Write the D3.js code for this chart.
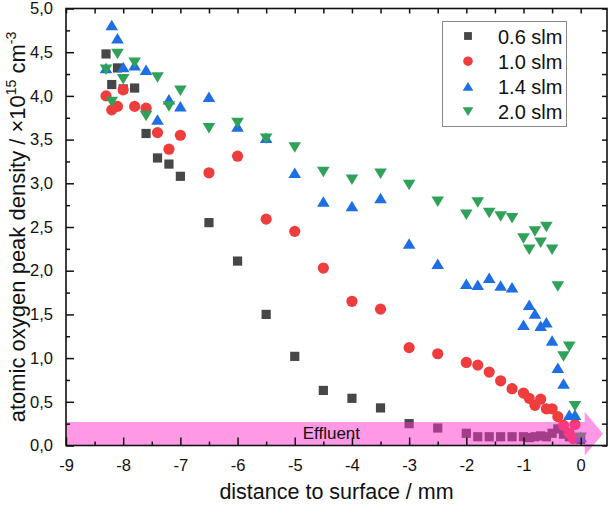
<!DOCTYPE html>
<html>
<head>
<meta charset="utf-8">
<script src="https://cdn.jsdelivr.net/npm/d3@7"></script>
<style>
  body { margin: 0; background: #fff; }
  svg { display: block; font-family: "Liberation Sans", Arial, sans-serif; }
</style>
</head>
<body>
<div id="chart"></div>
<script>
// series labels
const seriesNames = ["0.6 slm", "1.0 slm", "1.4 slm", "2.0 slm"];

// distance to surface (mm), shared by most series
const dist = [-8.3, -8.2, -8.1, -8.0, -7.8, -7.6, -7.4, -7.2, -7.0, -6.5, -6.0, -5.5, -5.0, -4.5,
  -4.0, -3.5, -3.0, -2.5, -2.0, -1.8, -1.6, -1.4, -1.2, -1.0, -0.9, -0.8, -0.7, -0.6, -0.5,
  -0.4, -0.3, -0.2, -0.1, 0.0];
// 1.0 slm last point sits a bit left of 0
const distRed = dist.slice(0, -1).concat([-0.13]);

// atomic oxygen peak density (x10^15 cm^-3)
const n06 = [4.48, 4.13, 4.32, 4.08, 4.09, 3.57, 3.29, 3.22, 3.08, 2.55, 2.11, 1.50, 1.02, 0.63,
  0.54, 0.43, 0.25, 0.20, 0.14, 0.10, 0.10, 0.10, 0.10, 0.10, 0.09, 0.10, 0.11, 0.10, 0.14,
  0.19, 0.13, 0.10, 0.08, 0.07];
const n10 = [4.00, 3.84, 3.88, 4.07, 3.88, 3.86, 3.58, 3.39, 3.55, 3.12, 3.31, 2.59, 2.45, 2.03,
  1.65, 1.56, 1.12, 1.05, 0.95, 0.92, 0.84, 0.74, 0.65, 0.60, 0.54, 0.46, 0.53, 0.42, 0.42,
  0.33, 0.23, 0.14, 0.24, 0.08];
const n14 = [4.32, 4.81, 4.66, 4.33, 4.35, 4.30, 3.73, 3.96, 3.88, 3.99, 3.65, 3.52, 3.12, 2.79,
  2.74, 2.83, 2.31, 2.08, 1.85, 1.84, 1.92, 1.83, 1.81, 1.38, 1.61, 1.51, 1.37, 1.41, 1.20,
  0.89, 0.71, 0.35, 0.35, 0.10];
const n20 = [4.30, 3.93, 4.48, 4.19, 4.38, 3.77, 4.21, 3.88, 4.06, 3.63, 3.69, 3.51, 3.41, 3.13,
  3.04, 3.11, 2.98, 2.79, 2.64, 2.78, 2.66, 2.62, 2.60, 2.37, 2.24, 2.45, 2.32, 2.50, 2.24,
  1.82, 1.02, 1.13, 0.45, 0.09];

const xTickLabels = d3.range(-9, 1, 1);
const yTickLabels = d3.range(0, 5.001, 0.5);

const colors = ["#474747", "#ef3d3d", "#1e6fe3", "#30a158"];
const shapes = ["square", "circle", "up", "down"];

const width = 611, height = 505;

const x = d3.scaleLinear().domain([-9, 0.46]).range([66, 607]);
const y = d3.scaleLinear().domain([0, 5]).range([445.5, 8.5]);

const svg = d3.select("#chart").append("svg")
  .attr("width", width).attr("height", height)
  .attr("viewBox", [0, 0, width, height]);

function marker(sel, shape, s) {
  // s = scale factor
  if (shape === "square") {
    sel.append("rect").attr("x", -4.6 * s).attr("y", -4.6 * s)
      .attr("width", 9.2 * s).attr("height", 9.2 * s);
  } else if (shape === "circle") {
    sel.append("circle").attr("r", 5.6 * s);
  } else if (shape === "up") {
    sel.append("path").attr("d", `M0,${-5.3 * s}L${6.3 * s},${5.2 * s}L${-6.3 * s},${5.2 * s}Z`);
  } else {
    sel.append("path").attr("d", `M0,${5.3 * s}L${6.3 * s},${-5.2 * s}L${-6.3 * s},${-5.2 * s}Z`);
  }
}

const series = [
  {name: seriesNames[0], xs: dist, ys: n06},
  {name: seriesNames[1], xs: distRed, ys: n10},
  {name: seriesNames[2], xs: dist, ys: n14},
  {name: seriesNames[3], xs: dist, ys: n20}
];

series.forEach((s, i) => {
  const pts = s.ys.map((v, j) => ({x: s.xs[j], y: v}));
  const g = svg.append("g").attr("fill", colors[i]);
  pts.forEach(p => {
    const m = g.append("g").attr("transform", `translate(${x(p.x)},${y(p.y)})`);
    marker(m, shapes[i], 1);
  });
});

// effluent arrow (drawn over the points, translucent)
const band = {x0: -9, x1: 0.07, y0: 0, y1: 0.27, tip: 0.39, half: 0.25};
const bandMid = (band.y0 + band.y1) / 2;
const arrow = d3.path();
arrow.moveTo(x(band.x0), y(band.y1));
arrow.lineTo(x(band.x1), y(band.y1));
arrow.lineTo(x(band.x1), y(bandMid + band.half));
arrow.lineTo(x(band.tip), y(bandMid));
arrow.lineTo(x(band.x1), y(bandMid - band.half));
arrow.lineTo(x(band.x1), y(band.y0));
arrow.lineTo(x(band.x0), y(band.y0));
arrow.closePath();
svg.append("path").attr("d", arrow.toString())
  .attr("fill", "#ff33cc").attr("fill-opacity", 0.5);

svg.append("text")
  .attr("x", x(-4.36)).attr("y", y(0.075))
  .attr("text-anchor", "middle")
  .attr("font-size", 17).attr("fill", "#111")
  .text("Effluent");

// axes: inward ticks on all four sides
const fmtX = d => String(d).replace("\u2212", "-");
const fmtY = d => d3.format(".1f")(d).replace(".", ",");
const xMinor = d3.range(-8.5, 0.5, 1);
const yMinor = d3.range(0.25, 5, 0.5);

function styleAxis(g) {
  g.select(".domain").remove();
  g.selectAll(".tick line").attr("stroke", "#111").attr("stroke-width", 1.5);
}

svg.append("g").attr("transform", `translate(0,${y(0)})`)
  .call(d3.axisBottom(x).tickValues(xTickLabels).tickSize(-8).tickPadding(14).tickFormat(fmtX))
  .call(styleAxis)
  .call(g => g.selectAll("text").attr("font-size", 16.5).attr("fill", "#111")
    .attr("font-family", "Liberation Sans, Arial, sans-serif"));
svg.append("g").attr("transform", `translate(0,${y(0)})`)
  .call(d3.axisBottom(x).tickValues(xMinor).tickSize(-4).tickFormat(""))
  .call(styleAxis);
svg.append("g").attr("transform", `translate(0,${y(5)})`)
  .call(d3.axisTop(x).tickValues(xTickLabels.concat(xMinor)).tickSize(-5).tickFormat(""))
  .call(styleAxis);

svg.append("g").attr("transform", `translate(${x(-9)},0)`)
  .call(d3.axisLeft(y).tickValues(yTickLabels).tickSize(-8).tickPadding(13).tickFormat(fmtY))
  .call(styleAxis)
  .call(g => g.selectAll("text").attr("font-size", 16.5).attr("fill", "#111")
    .attr("font-family", "Liberation Sans, Arial, sans-serif"));
svg.append("g").attr("transform", `translate(${x(-9)},0)`)
  .call(d3.axisLeft(y).tickValues(yMinor).tickSize(-4).tickFormat(""))
  .call(styleAxis);
svg.append("g").attr("transform", `translate(${x(0.46)},0)`)
  .call(d3.axisRight(y).tickValues(yTickLabels.concat(yMinor)).tickSize(-5).tickFormat(""))
  .call(styleAxis);

// frame
svg.append("rect")
  .attr("x", x(-9)).attr("y", y(5))
  .attr("width", x(0.46) - x(-9)).attr("height", y(0) - y(5))
  .attr("fill", "none").attr("stroke", "#111").attr("stroke-width", 1.6);

// axis titles
svg.append("text")
  .attr("x", (x(-9) + x(0.46)) / 2).attr("y", 499)
  .attr("text-anchor", "middle").attr("font-size", 21.5).attr("fill", "#111")
  .text("distance to surface / mm");

const yt = svg.append("text")
  .attr("transform", `translate(25,${(y(0) + y(5)) / 2}) rotate(-90)`)
  .attr("text-anchor", "middle").attr("font-size", 22).attr("fill", "#111");
yt.append("tspan").text("atomic oxygen peak density / \u00d710");
yt.append("tspan").attr("font-size", 14).attr("dy", -9).text("15");
yt.append("tspan").attr("dy", 9).text(" cm");
yt.append("tspan").attr("font-size", 14).attr("dy", -9).text("-3");

// legend
const lg = svg.append("g");
lg.append("rect").attr("x", 442.5).attr("y", 21.5).attr("width", 124).attr("height", 105)
  .attr("fill", "#fff").attr("stroke", "#888").attr("stroke-width", 1);
seriesNames.forEach((name, i) => {
  const row = lg.append("g").attr("transform", `translate(468,${36 + i * 25.2})`);
  const m = row.append("g").attr("fill", colors[i]);
  marker(m, shapes[i], 0.85);
  row.append("text").attr("x", 30).attr("y", 7.5)
    .attr("font-size", 20).attr("fill", "#111").text(name);
});
</script>
</body>
</html>
